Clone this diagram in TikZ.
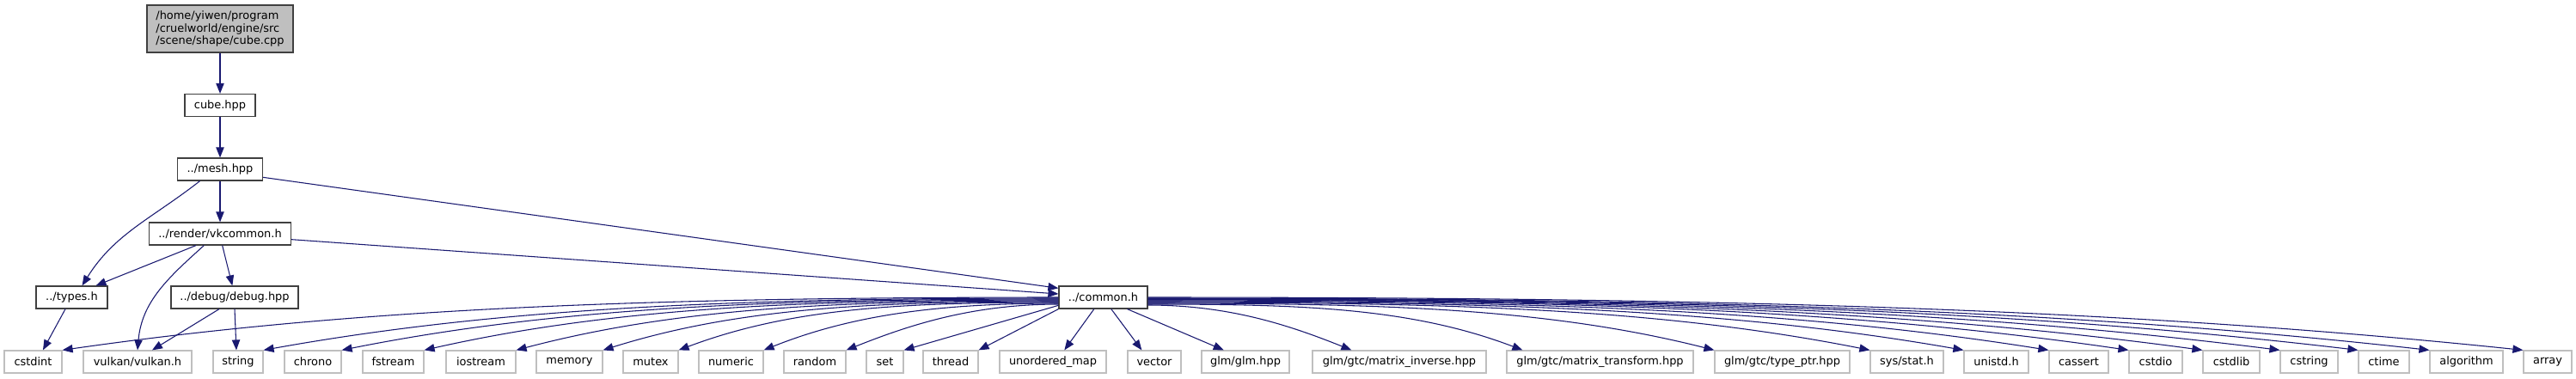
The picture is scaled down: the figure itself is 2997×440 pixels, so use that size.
\documentclass[tikz,border=0pt]{standalone}
\usepackage{fontspec}
\setmainfont{DejaVu Sans}
\usetikzlibrary{arrows.meta}
\definecolor{edgeblue}{HTML}{191970}
\definecolor{grey75}{HTML}{BFBFBF}
\definecolor{boxline}{HTML}{404040}

\begin{document}
\begin{tikzpicture}[x=0.75pt,y=-0.75pt,
  file/.style={draw=boxline,line width=0.9pt,fill=white,inner sep=0pt,minimum height=19.5pt,font=\fontsize{9.7}{10.9}\selectfont},
  sysfile/.style={file,draw=grey75},
  bw/.style={minimum width=#1*0.75pt},
  dep/.style={edgeblue,line width=0.8pt,-{Triangle[length=9pt,width=7pt]}}]
  \useasboundingbox (0,0) rectangle (2997,440);
  % project headers
  \node[file,fill=grey75,bw=170,minimum height=41.25pt,align=left] (root) at (256,33.5) {/home/yiwen/program\\/cruelworld/engine/src\\/scene/shape/cube.cpp};
  \node[file,bw=82] (cube) at (256,122.5) {cube.hpp};
  \node[file,bw=99] (mesh) at (256,197) {../mesh.hpp};
  \node[file,bw=165] (vkcommon) at (256,272) {../render/vkcommon.h};
  \node[file,bw=83] (types) at (83.5,346) {../types.h};
  \node[file,bw=148] (debug) at (273,346) {../debug/debug.hpp};
  \node[file,bw=103] (common) at (1283.5,346) {../common.h};
  % system headers
  \node[sysfile,bw=67] (cstdint) at (38.5,421) {cstdint};
  \node[sysfile,bw=126] (vulkan) at (160,421) {vulkan/vulkan.h};
  \node[sysfile,bw=58] (string) at (277,421) {string};
  \node[sysfile,bw=66] (chrono) at (364,421) {chrono};
  \node[sysfile,bw=71] (fstream) at (457.5,421) {fstream};
  \node[sysfile,bw=81] (iostream) at (559.5,421) {iostream};
  \node[sysfile,bw=77] (memory) at (662.5,421) {memory};
  \node[sysfile,bw=64] (mutex) at (757,421) {mutex};
  \node[sysfile,bw=75] (numeric) at (850.5,421) {numeric};
  \node[sysfile,bw=72] (random) at (948,421) {random};
  \node[sysfile,bw=43] (set) at (1029.5,421) {set};
  \node[sysfile,bw=64] (thread) at (1106,421) {thread};
  \node[sysfile,bw=124] (umap) at (1225,421) {unordered\_map};
  \node[sysfile,bw=62] (vector) at (1343,421) {vector};
  \node[sysfile,bw=102] (glm) at (1449,421) {glm/glm.hpp};
  \node[sysfile,bw=202] (inv) at (1628,421) {glm/gtc/matrix\_inverse.hpp};
  \node[sysfile,bw=217] (trans) at (1861.5,421) {glm/gtc/matrix\_transform.hpp};
  \node[sysfile,bw=157] (typeptr) at (2073.5,421) {glm/gtc/type\_ptr.hpp};
  \node[sysfile,bw=85] (stat) at (2218.5,421) {sys/stat.h};
  \node[sysfile,bw=75] (unistd) at (2322.5,421) {unistd.h};
  \node[sysfile,bw=69] (cassert) at (2418.5,421) {cassert};
  \node[sysfile,bw=62] (cstdio) at (2508,421) {cstdio};
  \node[sysfile,bw=66] (cstdlib) at (2596,421) {cstdlib};
  \node[sysfile,bw=67] (cstring) at (2686.5,421) {cstring};
  \node[sysfile,bw=59] (ctime) at (2773.5,421) {ctime};
  \node[sysfile,bw=85] (algorithm) at (2869.5,421) {algorithm};
  \node[sysfile,bw=56] (array) at (2964,421) {array};
  % upper includes
  \draw[dep] (root) -- (cube);
  \draw[dep] (cube) -- (mesh);
  \draw[dep] (mesh) -- (vkcommon);
  \draw[dep] ([xshift=20pt]mesh.south west) to[out=218,in=58] ([xshift=9pt]types.north);
  \draw[dep] ([yshift=-7pt]mesh.east) -- ([yshift=8pt]common.west);
  \draw[dep] ([yshift=-5pt]vkcommon.east) -- ([yshift=3pt]common.west);
  \draw[dep] ([xshift=-21pt]vkcommon.south) -- ([xshift=21pt]types.north);
  \draw[dep] ([xshift=-14pt]vkcommon.south) to[out=222,in=85] (vulkan.north);
  \draw[dep] ([xshift=2pt]vkcommon.south) -- ([xshift=-2pt]debug.north);
  \draw[dep] ([xshift=-5.6pt]types.south) -- ([xshift=8.6pt]cstdint.north);
  \draw[dep] ([xshift=-13.5pt]debug.south) -- ([xshift=12.75pt]vulkan.north);
  \draw[dep] (debug.south) -- ([xshift=-1.5pt]string.north);
  % common.h fan, near targets
  \draw[dep] ([yshift=-7pt]common.west) -- (set.north east);
  \draw[dep] (common.south west) -- (thread.north east);
  \draw[dep] ([xshift=-8pt]common.south) -- ([xshift=10pt]umap.north);
  \draw[dep] ([xshift=7pt]common.south) -- ([xshift=-11pt]vector.north);
  \draw[dep] ([xshift=21pt]common.south) -- ([xshift=-19pt]glm.north);
  % common.h fan, left
  \foreach \n/\D/\s in {cstdint/1160/0,string/926/1,chrono/835/2,fstream/739/3,iostream/632/4,memory/531/5,mutex/443/6,numeric/344/7,random/248/8}{
    \pgfmathsetmacro\r{min(50,0.12*\D)}
    \draw[dep] ([yshift={-0.75pt*\s}]common.west) .. controls +({-0.4*\D},0) and +({0.3*\D},{-\r}) .. (\n.north east);
  }
  % common.h fan, right
  \foreach \n/\D/\s/\xs in {inv/238/9/46,trans/437/8/19,typeptr/660/7/0,stat/841/6/0,unistd/950/5/0,cassert/1049/4/0,cstdio/1142/3/0,cstdlib/1228/2.5/0,cstring/1318/2/0,ctime/1409/1.5/0,algorithm/1492/1/0,array/1601/0/0}{
    \pgfmathsetmacro\r{min(50,0.12*\D)}
    \draw[dep] ([yshift={-0.75pt*\s}]common.east) .. controls +({0.4*\D},0) and +({-0.3*\D},{-\r}) .. ([xshift={0.75pt*\xs}]\n.north west);
  }
\end{tikzpicture}
\end{document}
